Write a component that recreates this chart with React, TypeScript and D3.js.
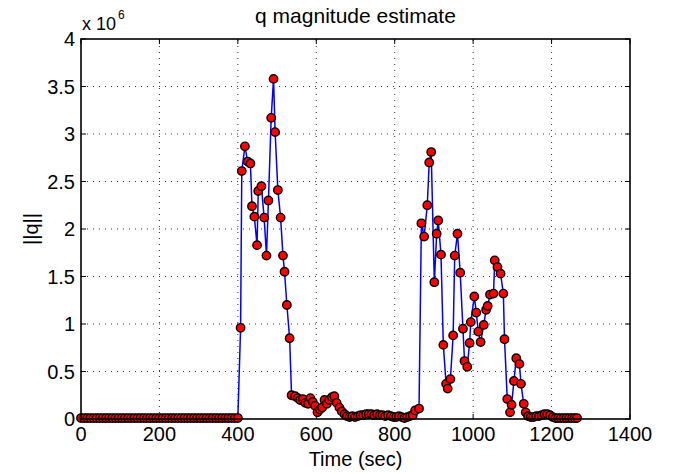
import React from 'react';
import { scaleLinear, line } from 'd3';

const width = 683;
const height = 474;
const margin = { left: 81, right: 53, top: 39, bottom: 55 };

// time (sec) and ||q|| (x 1e6) in segments
const baseTimes = [0, 8, 16, 24, 32, 40, 48, 56, 64, 72, 80, 88, 96, 104, 112, 120, 128, 136, 144, 152, 160, 168, 176, 184, 192, 200, 208, 216, 224, 232, 240, 248, 256, 264, 272, 280, 288, 296, 304, 312, 320, 328, 336, 344, 352, 360, 368, 376, 384, 392, 400];
const baseValues = [0.01, 0.01, 0.01, 0.01, 0.01, 0.01, 0.01, 0.01, 0.01, 0.01, 0.01, 0.01, 0.01, 0.01, 0.01, 0.01, 0.01, 0.01, 0.01, 0.01, 0.01, 0.01, 0.01, 0.01, 0.01, 0.01, 0.01, 0.01, 0.01, 0.01, 0.01, 0.01, 0.01, 0.01, 0.01, 0.01, 0.01, 0.01, 0.01, 0.01, 0.01, 0.01, 0.01, 0.01, 0.01, 0.01, 0.01, 0.01, 0.01, 0.01, 0.01];

const peak1Times = [407, 410, 418, 425, 432, 436, 442, 449, 452, 460, 467, 473, 478, 485, 491, 495, 502, 509, 515, 519, 525, 532];
const peak1Values = [0.96, 2.61, 2.87, 2.71, 2.69, 2.24, 2.13, 1.83, 2.40, 2.45, 2.12, 1.72, 2.30, 3.17, 3.58, 3.02, 2.41, 2.12, 1.72, 1.55, 1.20, 0.85];

const lowTimes = [537, 546, 553, 559, 566, 572, 579, 585, 591, 597, 603, 609, 615, 621, 627, 633, 640, 646, 652, 659, 665, 672, 678, 685, 692, 699, 706, 713, 720, 727, 734, 741, 748, 755, 762, 769, 776, 783, 790, 797, 804, 811, 818, 825, 832, 839, 846, 852, 862];
const lowValues = [0.25, 0.24, 0.22, 0.20, 0.21, 0.17, 0.16, 0.22, 0.18, 0.14, 0.07, 0.10, 0.12, 0.20, 0.16, 0.20, 0.23, 0.24, 0.17, 0.12, 0.08, 0.05, 0.03, 0.02, 0.03, 0.02, 0.03, 0.04, 0.04, 0.05, 0.05, 0.05, 0.04, 0.05, 0.04, 0.04, 0.03, 0.04, 0.03, 0.02, 0.02, 0.03, 0.02, 0.01, 0.02, 0.03, 0.04, 0.09, 0.11];

const peak2Times = [868, 875, 883, 888, 893, 901, 907, 911, 918, 924, 931, 935, 942, 949, 953, 960, 967, 974, 978, 985, 991, 994, 1003, 1008, 1013, 1019, 1027, 1033, 1037, 1043, 1052, 1055, 1062, 1070, 1077, 1080, 1087, 1094, 1098, 1104, 1110, 1118, 1122, 1129, 1134];
const peak2Values = [2.06, 1.92, 2.25, 2.70, 2.81, 1.44, 1.95, 2.09, 1.73, 0.78, 0.37, 0.32, 0.42, 0.88, 1.72, 1.95, 1.54, 0.95, 0.61, 0.55, 0.80, 1.02, 1.29, 1.12, 0.92, 0.81, 0.99, 1.15, 1.19, 1.31, 1.32, 1.67, 1.60, 1.53, 1.32, 0.84, 0.21, 0.07, 0.15, 0.40, 0.64, 0.58, 0.37, 0.16, 0.07];

const tailTimes = [1140, 1147, 1154, 1161, 1168, 1175, 1182, 1189, 1196, 1203, 1210, 1217, 1224, 1231, 1238, 1245, 1252, 1259, 1265];
const tailValues = [0.03, 0.02, 0.02, 0.03, 0.03, 0.04, 0.05, 0.05, 0.04, 0.02, 0.01, 0.01, 0.01, 0.01, 0.01, 0.01, 0.01, 0.01, 0.01];

const xTicks = [0, 200, 400, 600, 800, 1000, 1200, 1400];
const yTicks = [0, 0.5, 1, 1.5, 2, 2.5, 3, 3.5, 4];
const yTickLabels = ['0', '0.5', '1', '1.5', '2', '2.5', '3', '3.5', '4'];

const times = [...baseTimes, ...peak1Times, ...lowTimes, ...peak2Times, ...tailTimes];
const values = [...baseValues, ...peak1Values, ...lowValues, ...peak2Values, ...tailValues];
const data = times.map((t, i) => ({ t, v: values[i] }));

const font = '"Liberation Sans", Arial, Helvetica, sans-serif';

export default function App() {
  const x0 = margin.left;
  const x1 = width - margin.right;
  const y0 = height - margin.bottom;
  const y1 = margin.top;

  const xScale = scaleLinear().domain([0, 1400]).range([x0, x1]);
  const yScale = scaleLinear().domain([0, 4]).range([y0, y1]);

  const path = line<{ t: number; v: number }>()
    .x(d => xScale(d.t))
    .y(d => yScale(d.v))(data);

  const tickLen = 5;

  return (
    <svg width={width} height={height} style={{ position: 'absolute', left: 0, top: 0, background: '#fff' }}>
      <rect x={0} y={0} width={width} height={height} fill="#fff" />

      {/* grid */}
      {xTicks.slice(1, -1).map(t => (
        <line key={'gx' + t} x1={xScale(t)} x2={xScale(t)} y1={y0} y2={y1}
          stroke="#333" strokeWidth={1} strokeDasharray="1 5" />
      ))}
      {yTicks.slice(1, -1).map(t => (
        <line key={'gy' + t} x1={x0} x2={x1} y1={yScale(t)} y2={yScale(t)}
          stroke="#333" strokeWidth={1} strokeDasharray="1 5" />
      ))}

      {/* ticks inside on all sides */}
      {xTicks.map(t => (
        <g key={'tx' + t}>
          <line x1={xScale(t)} x2={xScale(t)} y1={y0} y2={y0 - tickLen} stroke="#000" strokeWidth={1} />
          <line x1={xScale(t)} x2={xScale(t)} y1={y1} y2={y1 + tickLen} stroke="#000" strokeWidth={1} />
        </g>
      ))}
      {yTicks.map(t => (
        <g key={'ty' + t}>
          <line x1={x0} x2={x0 + tickLen} y1={yScale(t)} y2={yScale(t)} stroke="#000" strokeWidth={1} />
          <line x1={x1} x2={x1 - tickLen} y1={yScale(t)} y2={yScale(t)} stroke="#000" strokeWidth={1} />
        </g>
      ))}

      {/* data */}
      <path d={path || ''} fill="none" stroke="#0000ff" strokeWidth={1.5} />
      {data.map((d, i) => (
        <circle key={i} cx={xScale(d.t)} cy={yScale(d.v)} r={4.2}
          fill="#ff0000" stroke="#000" strokeWidth={1.4} />
      ))}

      {/* box */}
      <rect x={x0} y={y1} width={x1 - x0} height={y0 - y1} fill="none" stroke="#000" strokeWidth={1.6} />

      {/* tick labels */}
      {xTicks.map(t => (
        <text key={'lx' + t} x={xScale(t)} y={y0 + 22} textAnchor="middle"
          fontFamily={font} fontSize={20} fill="#000">{t}</text>
      ))}
      {yTicks.map((t, i) => (
        <text key={'ly' + t} x={x0 - 6} y={yScale(t) + 7} textAnchor="end"
          fontFamily={font} fontSize={20} fill="#000">{yTickLabels[i]}</text>
      ))}

      {/* exponent */}
      <text x={x0 + 1} y={30} fontFamily={font} fontSize={18} fill="#000">x 10</text>
      <text x={x0 + 37} y={19} fontFamily={font} fontSize={12} fill="#000">6</text>

      {/* titles */}
      <text x={(x0 + x1) / 2} y={23} textAnchor="middle" fontFamily={font} fontSize={21} fill="#000">
        q magnitude estimate
      </text>
      <text x={(x0 + x1) / 2} y={466} textAnchor="middle" fontFamily={font} fontSize={20} fill="#000">
        Time (sec)
      </text>
      <text transform={`translate(38, ${(y0 + y1) / 2}) rotate(-90)`} textAnchor="middle"
        fontFamily={font} fontSize={20} fill="#000">||q||</text>
    </svg>
  );
}
